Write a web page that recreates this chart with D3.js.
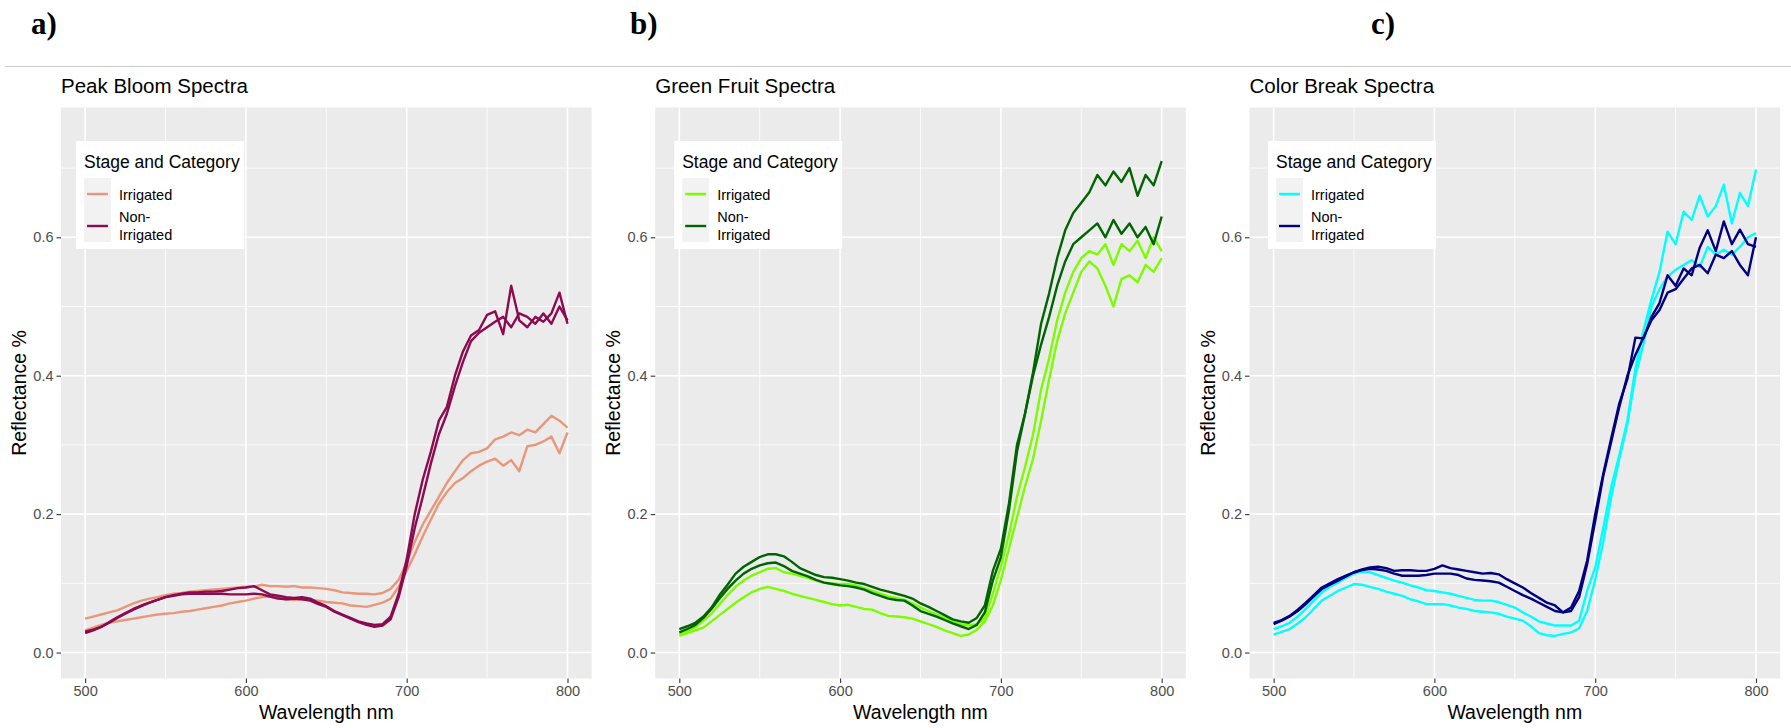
<!DOCTYPE html>
<html>
<head>
<meta charset="utf-8">
<script src="https://cdn.jsdelivr.net/npm/d3@7"></script>
<style>
  html, body { margin: 0; padding: 0; background: #ffffff; }
  svg { display: block; }
</style>
</head>
<body>
<svg id="fig" width="1791" height="728"></svg>
<script>
// ---- data -----------------------------------------------------------
const wavelengths = [500,505,510,515,520,525,530,535,540,545,550,555,560,565,570,575,580,585,590,595,
  600,605,610,615,620,625,630,635,640,645,650,655,660,665,670,675,680,685,690,695,
  700,705,710,715,720,725,730,735,740,745,750,755,760,765,770,775,780,785,790,795,800];

const xTicks = [500, 600, 700, 800];
const xMinorTicks = [550, 650, 750];
const yTicks = [0.0, 0.2, 0.4, 0.6];
const yMinorTicks = [0.1, 0.3, 0.5, 0.7];

const panelLetters = ["a)", "b)", "c)"];
const panelTitles = ["Peak Bloom Spectra", "Green Fruit Spectra", "Color Break Spectra"];
const legendTitle = "Stage and Category";
const categoryLabels = [["Irrigated"], ["Non-", "Irrigated"]];
const xAxisTitle = "Wavelength nm";
const yAxisTitle = "Reflectance %";

// Peak bloom reflectance
const bloomIrrigated1 = [0.049,0.052,0.055,0.058,0.061,0.066,0.071,0.075,0.078,0.080,
  0.083,0.085,0.086,0.088,0.089,0.090,0.091,0.092,0.093,0.094,
  0.095,0.095,0.098,0.096,0.096,0.095,0.096,0.094,0.094,0.093,
  0.092,0.090,0.087,0.086,0.085,0.085,0.084,0.086,0.092,0.105,
  0.130,0.160,0.185,0.205,0.225,0.245,0.262,0.278,0.288,0.290,
  0.295,0.308,0.312,0.318,0.314,0.322,0.318,0.330,0.342,0.335,0.325];
const bloomIrrigated2 = [0.032,0.036,0.040,0.043,0.045,0.047,0.049,0.051,0.053,0.055,
  0.056,0.057,0.059,0.060,0.062,0.064,0.066,0.068,0.071,0.073,
  0.075,0.078,0.080,0.081,0.079,0.077,0.076,0.077,0.076,0.075,
  0.073,0.072,0.071,0.068,0.067,0.066,0.069,0.072,0.078,0.095,
  0.118,0.142,0.168,0.192,0.215,0.232,0.245,0.252,0.262,0.270,
  0.276,0.280,0.270,0.278,0.262,0.298,0.300,0.305,0.312,0.288,0.318];
const bloomNonIrrigated1 = [0.030,0.033,0.037,0.043,0.050,0.056,0.062,0.067,0.072,0.076,
  0.080,0.083,0.085,0.087,0.087,0.088,0.088,0.089,0.091,0.093,
  0.094,0.096,0.090,0.084,0.082,0.080,0.079,0.080,0.078,0.072,
  0.067,0.060,0.055,0.050,0.045,0.042,0.040,0.041,0.052,0.085,
  0.135,0.200,0.250,0.290,0.335,0.355,0.400,0.435,0.458,0.466,
  0.488,0.493,0.460,0.530,0.480,0.470,0.485,0.478,0.490,0.520,0.475];
const bloomNonIrrigated2 = [0.028,0.032,0.037,0.044,0.051,0.057,0.063,0.068,0.072,0.076,
  0.080,0.082,0.084,0.085,0.085,0.085,0.085,0.085,0.084,0.084,
  0.084,0.085,0.084,0.081,0.078,0.077,0.078,0.077,0.075,0.070,
  0.066,0.059,0.054,0.049,0.044,0.040,0.037,0.039,0.048,0.080,
  0.125,0.180,0.225,0.273,0.315,0.345,0.385,0.420,0.450,0.462,
  0.470,0.478,0.485,0.470,0.490,0.485,0.475,0.490,0.475,0.500,0.480];

// Green fruit reflectance
const fruitIrrigated1 = [0.027,0.031,0.037,0.046,0.056,0.070,0.083,0.095,0.104,0.111,
  0.116,0.121,0.122,0.116,0.114,0.111,0.108,0.104,0.101,0.100,
  0.099,0.099,0.097,0.093,0.089,0.085,0.081,0.079,0.076,0.071,
  0.065,0.060,0.055,0.050,0.045,0.041,0.039,0.041,0.050,0.085,
  0.125,0.170,0.225,0.268,0.315,0.380,0.425,0.480,0.520,0.550,
  0.570,0.580,0.575,0.590,0.560,0.590,0.580,0.595,0.570,0.600,0.580];
const fruitIrrigated2 = [0.024,0.028,0.032,0.036,0.045,0.054,0.063,0.072,0.080,0.087,
  0.092,0.095,0.092,0.089,0.085,0.082,0.079,0.076,0.073,0.070,
  0.068,0.069,0.066,0.063,0.062,0.057,0.053,0.052,0.051,0.049,
  0.045,0.041,0.037,0.032,0.028,0.024,0.026,0.033,0.045,0.068,
  0.105,0.150,0.195,0.240,0.280,0.335,0.395,0.450,0.490,0.520,
  0.550,0.565,0.555,0.530,0.500,0.540,0.545,0.535,0.560,0.550,0.570];
const fruitNonIrrigated1 = [0.034,0.038,0.043,0.052,0.065,0.083,0.098,0.114,0.124,0.131,
  0.138,0.142,0.142,0.139,0.131,0.122,0.117,0.112,0.109,0.108,
  0.106,0.104,0.101,0.099,0.095,0.091,0.088,0.085,0.082,0.078,
  0.071,0.066,0.060,0.054,0.048,0.045,0.043,0.050,0.068,0.118,
  0.150,0.215,0.300,0.345,0.405,0.475,0.519,0.570,0.610,0.635,
  0.650,0.665,0.690,0.675,0.695,0.680,0.700,0.660,0.690,0.675,0.710];
const fruitNonIrrigated2 = [0.029,0.034,0.040,0.050,0.063,0.078,0.092,0.104,0.114,0.121,
  0.126,0.129,0.130,0.125,0.118,0.114,0.110,0.105,0.101,0.099,
  0.097,0.096,0.094,0.091,0.086,0.082,0.078,0.076,0.075,0.068,
  0.060,0.056,0.052,0.047,0.042,0.038,0.034,0.040,0.058,0.104,
  0.138,0.205,0.290,0.345,0.400,0.445,0.485,0.530,0.565,0.590,
  0.600,0.610,0.620,0.600,0.625,0.605,0.620,0.600,0.615,0.590,0.630];

// Color break reflectance
const breakIrrigated1 = [0.034,0.038,0.043,0.052,0.063,0.075,0.087,0.095,0.101,0.108,
  0.114,0.117,0.116,0.112,0.108,0.104,0.101,0.097,0.094,0.090,
  0.089,0.087,0.085,0.082,0.079,0.076,0.075,0.075,0.073,0.069,
  0.065,0.058,0.052,0.045,0.042,0.039,0.039,0.039,0.046,0.089,
  0.123,0.180,0.240,0.285,0.335,0.410,0.465,0.510,0.550,0.608,
  0.590,0.637,0.625,0.660,0.630,0.645,0.676,0.620,0.664,0.645,0.698];
const breakIrrigated2 = [0.026,0.030,0.034,0.042,0.051,0.063,0.075,0.082,0.089,0.094,
  0.099,0.098,0.095,0.092,0.088,0.085,0.082,0.077,0.074,0.070,
  0.070,0.070,0.068,0.065,0.063,0.060,0.059,0.058,0.056,0.052,
  0.049,0.046,0.038,0.028,0.025,0.024,0.027,0.029,0.035,0.060,
  0.105,0.160,0.225,0.280,0.330,0.400,0.445,0.500,0.525,0.543,
  0.553,0.560,0.567,0.557,0.586,0.575,0.582,0.575,0.586,0.600,0.606];
const breakNonIrrigated1 = [0.043,0.047,0.053,0.062,0.072,0.083,0.094,0.100,0.106,0.111,
  0.116,0.120,0.123,0.124,0.122,0.118,0.119,0.119,0.118,0.118,
  0.121,0.126,0.122,0.120,0.118,0.116,0.114,0.115,0.113,0.106,
  0.100,0.094,0.086,0.079,0.072,0.068,0.058,0.065,0.089,0.133,
  0.200,0.258,0.310,0.360,0.395,0.455,0.454,0.485,0.505,0.545,
  0.530,0.555,0.545,0.585,0.610,0.580,0.623,0.590,0.611,0.590,0.586];
const breakNonIrrigated2 = [0.041,0.046,0.052,0.060,0.070,0.081,0.092,0.098,0.104,0.110,
  0.116,0.119,0.121,0.120,0.118,0.114,0.111,0.111,0.111,0.112,
  0.114,0.114,0.114,0.112,0.107,0.105,0.104,0.103,0.101,0.095,
  0.089,0.083,0.078,0.072,0.066,0.060,0.058,0.060,0.080,0.128,
  0.190,0.255,0.305,0.355,0.400,0.430,0.455,0.480,0.495,0.520,
  0.525,0.540,0.555,0.560,0.548,0.575,0.570,0.580,0.560,0.545,0.600];

const bloomColors = ["#E9967A", "#8B0A50"];
const fruitColors = ["#7CFC00", "#006400"];
const breakColors = ["#00FFFF", "#000080"];

// ---- panel definitions ---------------------------------------------
const panels = [
  { letter: panelLetters[0], title: panelTitles[0], colors: bloomColors,
    irrigated: [bloomIrrigated1, bloomIrrigated2], nonIrrigated: [bloomNonIrrigated1, bloomNonIrrigated2] },
  { letter: panelLetters[1], title: panelTitles[1], colors: fruitColors,
    irrigated: [fruitIrrigated1, fruitIrrigated2], nonIrrigated: [fruitNonIrrigated1, fruitNonIrrigated2] },
  { letter: panelLetters[2], title: panelTitles[2], colors: breakColors,
    irrigated: [breakIrrigated1, breakIrrigated2], nonIrrigated: [breakNonIrrigated1, breakNonIrrigated2] }
];

// ---- layout ----------------------------------------------------------
const FONT = "'Liberation Sans', Arial, Helvetica, sans-serif";
const panelLefts = [61, 655.2, 1249.5];
const panelWidth = 530.6;
const panelTop = 107.5;
const panelBottom = 678.5;
const letterX = [31, 630, 1371];
const legendDx = [15, 19, 18.5];

const svg = d3.select("#fig");

// separator under the panel letters
svg.append("line")
  .attr("x1", 5).attr("x2", 1791).attr("y1", 66.5).attr("y2", 66.5)
  .attr("stroke", "#c8c8c8").attr("stroke-width", 1.2);

const y = d3.scaleLinear().domain([-0.0375, 0.7875]).range([panelBottom, panelTop]);

panels.forEach((p, i) => {
  const left = panelLefts[i];
  const x = d3.scaleLinear().domain([485, 815]).range([left, left + panelWidth]);

  // panel letter
  svg.append("text")
    .attr("x", letterX[i]).attr("y", 34)
    .attr("font-family", "'Liberation Serif', 'Times New Roman', serif")
    .attr("font-weight", "bold").attr("font-size", 31)
    .attr("fill", "#000")
    .text(p.letter);

  // plot title
  svg.append("text")
    .attr("x", left).attr("y", 93)
    .attr("font-family", FONT).attr("font-size", 20.5).attr("fill", "#000")
    .text(p.title);

  const g = svg.append("g");

  // panel background
  g.append("rect")
    .attr("x", left).attr("y", panelTop)
    .attr("width", panelWidth).attr("height", panelBottom - panelTop)
    .attr("fill", "#EBEBEB");

  // minor grid
  g.selectAll(".xminor").data(xMinorTicks).join("line")
    .attr("x1", d => x(d)).attr("x2", d => x(d))
    .attr("y1", panelTop).attr("y2", panelBottom)
    .attr("stroke", "#fff").attr("stroke-width", 0.8);
  g.selectAll(".yminor").data(yMinorTicks).join("line")
    .attr("x1", left).attr("x2", left + panelWidth)
    .attr("y1", d => y(d)).attr("y2", d => y(d))
    .attr("stroke", "#fff").attr("stroke-width", 0.8);
  // major grid
  g.selectAll(".xmajor").data(xTicks).join("line")
    .attr("x1", d => x(d)).attr("x2", d => x(d))
    .attr("y1", panelTop).attr("y2", panelBottom)
    .attr("stroke", "#fff").attr("stroke-width", 1.6);
  g.selectAll(".ymajor").data(yTicks).join("line")
    .attr("x1", left).attr("x2", left + panelWidth)
    .attr("y1", d => y(d)).attr("y2", d => y(d))
    .attr("stroke", "#fff").attr("stroke-width", 1.6);

  // spectra
  const line = d3.line()
    .x((d, k) => x(wavelengths[k]))
    .y(d => y(d));
  const series = [
    ...p.irrigated.map(v => ({ values: v, color: p.colors[0] })),
    ...p.nonIrrigated.map(v => ({ values: v, color: p.colors[1] }))
  ];
  g.selectAll(".spectrum").data(series).join("path")
    .attr("d", s => line(s.values))
    .attr("fill", "none")
    .attr("stroke", s => s.color)
    .attr("stroke-width", 2.4)
    .attr("stroke-linejoin", "round");

  // axes
  const xAxis = svg.append("g")
    .attr("transform", `translate(0,${panelBottom})`)
    .call(d3.axisBottom(x).tickValues(xTicks).tickSize(4.5).tickPadding(3).tickFormat(d3.format("d")));
  const yAxis = svg.append("g")
    .attr("transform", `translate(${left},0)`)
    .call(d3.axisLeft(y).tickValues(yTicks).tickSize(4.5).tickPadding(3).tickFormat(d3.format(".1f")));
  [xAxis, yAxis].forEach(a => {
    a.select(".domain").remove();
    a.selectAll(".tick line").attr("stroke", "#333333").attr("stroke-width", 1.1);
    a.selectAll(".tick text")
      .attr("font-family", FONT).attr("font-size", 14.5).attr("fill", "#4D4D4D");
  });

  // axis titles
  svg.append("text")
    .attr("x", left + panelWidth / 2).attr("y", 719)
    .attr("text-anchor", "middle")
    .attr("font-family", FONT).attr("font-size", 19.5).attr("fill", "#000")
    .text(xAxisTitle);
  svg.append("text")
    .attr("transform", `translate(${left - 35},${(panelTop + panelBottom) / 2}) rotate(-90)`)
    .attr("text-anchor", "middle")
    .attr("font-family", FONT).attr("font-size", 19.5).attr("fill", "#000")
    .text(yAxisTitle);

  // legend
  const lx = left + legendDx[i], ly = 141;
  const lg = svg.append("g").attr("transform", `translate(${lx},${ly})`);
  lg.append("rect").attr("width", 168).attr("height", 108).attr("fill", "#fff");
  lg.append("text").attr("x", 8).attr("y", 27)
    .attr("font-family", FONT).attr("font-size", 17.5).attr("fill", "#000")
    .text(legendTitle);
  lg.append("rect").attr("x", 8).attr("y", 37).attr("width", 27).attr("height", 64)
    .attr("fill", "#F2F2F2");
  const keyY = [53, 85];
  categoryLabels.forEach((lines, k) => {
    lg.append("line")
      .attr("x1", 11).attr("x2", 32).attr("y1", keyY[k]).attr("y2", keyY[k])
      .attr("stroke", p.colors[k]).attr("stroke-width", 2.4);
    const t = lg.append("text")
      .attr("font-family", FONT).attr("font-size", 14.5).attr("fill", "#000");
    const first = k === 0 ? 59 : 81;
    lines.forEach((s, j) => {
      t.append("tspan").attr("x", 43).attr("y", first + j * 17.5).text(s);
    });
  });
});
</script>
</body>
</html>
